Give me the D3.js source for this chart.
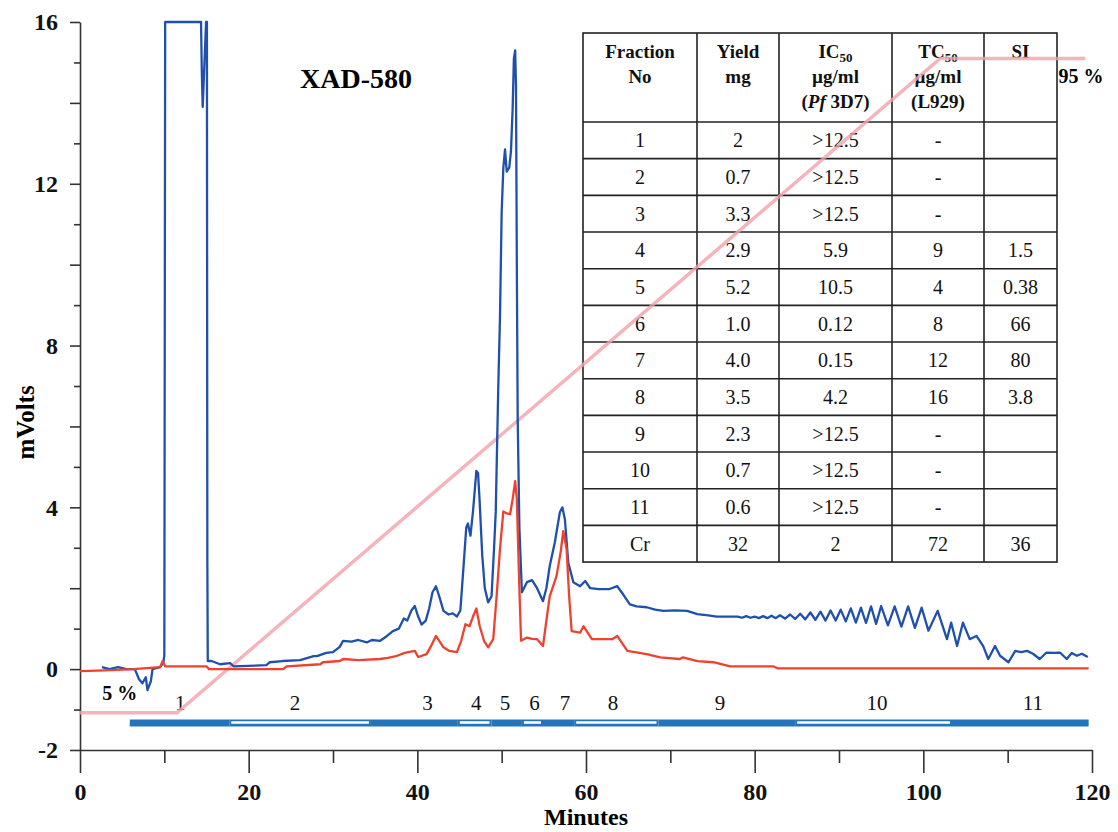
<!DOCTYPE html>
<html>
<head>
<meta charset="utf-8">
<script src="https://cdn.jsdelivr.net/npm/d3@7"></script>
<style>
  body { margin: 0; background: #fff; }
  svg text { font-family: "Liberation Serif", "Times New Roman", serif; }
</style>
</head>
<body>
<svg id="chart" width="1118" height="832"></svg>
<script>
// chromatogram traces, [minutes, mV]
const blueTrace = [
  [2.6, 0.05], [3.5, 0.0], [4.5, 0.05], [5.5, 0.0], [6.5, 0.0], [7.0, -0.25], [7.4, -0.35],
  [7.8, -0.2], [8.0, -0.52], [8.4, -0.3], [8.6, 0.0], [9.5, 0.05], [9.9, 0.17], [10.0, 0.35],
  [10.1, 16], [14.35, 16], [14.45, 14.7], [14.55, 13.9], [14.95, 16], [15.05, 16], [15.1, 2.7],
  [15.15, 0.2], [15.6, 0.2], [16.6, 0.12], [17.8, 0.15], [18.2, 0.07], [20, 0.08], [22.1, 0.1],
  [22.5, 0.17], [24, 0.2], [26.1, 0.22], [27.7, 0.32], [28.1, 0.32], [29.2, 0.4], [30, 0.42],
  [30.8, 0.55], [31.2, 0.7], [32.2, 0.68], [33, 0.72], [34, 0.66], [34.6, 0.72], [35.6, 0.7],
  [36.4, 0.82], [37.1, 0.94], [37.8, 1.0], [38.4, 1.25], [38.8, 1.2], [39.3, 1.45], [39.7, 1.56],
  [40.1, 1.3], [40.5, 1.1], [41.0, 1.2], [41.4, 1.5], [41.8, 1.9], [42.2, 2.05], [42.6, 1.8],
  [43.1, 1.44], [43.7, 1.35], [44.2, 1.38], [44.7, 1.3], [45.1, 1.45], [45.5, 2.6], [45.8, 3.5],
  [46.0, 3.6], [46.3, 3.3], [46.6, 3.9], [47.0, 4.9], [47.2, 4.85], [47.4, 4.1], [47.7, 2.8],
  [48.0, 2.0], [48.4, 1.65], [48.8, 1.8], [49.1, 3.0], [49.3, 3.9], [49.6, 7.0], [49.8, 8.7],
  [50.0, 11.3], [50.2, 12.4], [50.4, 12.85], [50.6, 12.3], [50.9, 12.4], [51.1, 12.8],
  [51.3, 13.85], [51.45, 15.1], [51.6, 15.3], [51.7, 14.4], [51.8, 9.9], [51.9, 6.2],
  [52.1, 3.5], [52.4, 1.9], [53.0, 2.15], [53.6, 2.2], [54.2, 2.0], [54.9, 1.68], [55.3, 2.0],
  [55.7, 2.55], [56.3, 3.13], [56.9, 3.88], [57.2, 4.0], [57.5, 3.7], [57.9, 2.63], [58.5, 2.15],
  [59.3, 2.05], [59.9, 2.18], [60.5, 2.0], [61.5, 1.98], [62.8, 1.98], [63.7, 2.05], [64.4, 1.85],
  [65.2, 1.6], [66.0, 1.55], [67.2, 1.53], [68.2, 1.47], [69.2, 1.44], [70.5, 1.45], [72.0, 1.44],
  [73.2, 1.36], [74.5, 1.33], [75.5, 1.3], [77.0, 1.3],
  [78.0, 1.30], [78.5, 1.27], [79.0, 1.31], [79.5, 1.27], [80.0, 1.30], [80.5, 1.26], [81.0, 1.31],
  [81.5, 1.26], [82.0, 1.32], [82.5, 1.26], [83.0, 1.33], [83.6, 1.25], [84.2, 1.35], [84.8, 1.24],
  [85.4, 1.37], [86.0, 1.23], [86.6, 1.40], [87.2, 1.22], [87.8, 1.42], [88.4, 1.20], [89.0, 1.45],
  [89.6, 1.20], [90.2, 1.47], [90.8, 1.18], [91.4, 1.50], [92.0, 1.15], [92.6, 1.52], [93.2, 1.14],
  [93.8, 1.55], [94.4, 1.12], [95.0, 1.56], [95.8, 1.08], [96.6, 1.55], [97.4, 1.05], [98.2, 1.55],
  [99.0, 1.02], [99.8, 1.52], [100.6, 0.95], [101.7, 1.44], [102.8, 0.74], [103.3, 1.15],
  [104.0, 0.57], [104.7, 1.15], [105.5, 0.74], [106.3, 0.82], [107.1, 0.57], [107.7, 0.25],
  [108.5, 0.57], [109.1, 0.33], [110.1, 0.17], [110.9, 0.45], [111.6, 0.42], [112.3, 0.45],
  [113.0, 0.38], [113.8, 0.25], [114.6, 0.41], [115.5, 0.4], [116.2, 0.41], [117.0, 0.25],
  [117.6, 0.4], [118.2, 0.33], [118.8, 0.38], [119.5, 0.3]
];

const redTrace = [
  [0, -0.05], [3, -0.03], [6.3, 0.0], [9.5, 0.05], [9.8, 0.2], [10.1, 0.07], [15, 0.07],
  [15.3, 0.0], [24.1, 0.0], [24.5, 0.07], [28.5, 0.12], [28.8, 0.17], [30.8, 0.2], [31.2, 0.25],
  [33, 0.22], [35.6, 0.25], [36.5, 0.28], [37.6, 0.33], [38.5, 0.4], [39.7, 0.45], [40.1, 0.3],
  [41.1, 0.37], [41.7, 0.6], [42.2, 0.82], [42.6, 0.7], [43.1, 0.54], [43.8, 0.45], [44.7, 0.42],
  [45.2, 0.7], [45.7, 1.11], [46.2, 1.06], [46.6, 1.3], [47.0, 1.5], [47.4, 1.06], [47.9, 0.7],
  [48.4, 0.54], [49.0, 0.74], [49.4, 1.8], [49.8, 2.97], [50.2, 3.9], [50.6, 3.85], [51.0, 3.83],
  [51.3, 4.2], [51.6, 4.65], [51.8, 4.2], [52.1, 1.98], [52.3, 0.7], [53.0, 0.78], [53.6, 0.75],
  [54.2, 0.74], [54.9, 0.57], [55.3, 1.2], [55.7, 1.8], [56.5, 2.3], [57.0, 2.9], [57.3, 3.41],
  [57.7, 2.97], [58.0, 1.8], [58.3, 0.94], [59.3, 0.9], [59.7, 1.06], [60.7, 0.74], [61.7, 0.74],
  [63.1, 0.74], [63.7, 0.82], [64.9, 0.45], [67.2, 0.37], [68.8, 0.29], [71.1, 0.25], [71.5, 0.29],
  [73.2, 0.2], [75.1, 0.17], [77.1, 0.07], [82.2, 0.07], [82.7, 0.02], [119.6, 0.02]
];

// solvent gradient (% organic)
const gradientTime = [0, 11.5, 102, 119.2];
const gradientPct = [5, 5, 95, 95];

// collected fractions
const fractionNames = ["1", "2", "3", "4", "5", "6", "7", "8", "9", "10", "11"];
const fractionStart = [5.9, 17.7, 34.5, 44.8, 48.8, 52.4, 54.9, 58.6, 68.6, 84.8, 103.4];
const fractionEnd = [17.7, 34.5, 44.8, 48.8, 52.4, 54.9, 58.6, 68.6, 84.8, 103.4, 119.6];
const fractionLabelAt = [11.9, 25.5, 41.2, 47, 50.4, 53.9, 57.5, 63.2, 75.9, 94.5, 113];

const xTickLabels = [0, 20, 40, 60, 80, 100, 120];
const yTickLabels = [-2, 0, 4, 8, 12, 16];

// table
const tableFraction = ["1", "2", "3", "4", "5", "6", "7", "8", "9", "10", "11", "Cr"];
const tableYield = ["2", "0.7", "3.3", "2.9", "5.2", "1.0", "4.0", "3.5", "2.3", "0.7", "0.6", "32"];
const tableIC50 = [">12.5", ">12.5", ">12.5", "5.9", "10.5", "0.12", "0.15", "4.2", ">12.5", ">12.5", ">12.5", "2"];
const tableTC50 = ["-", "-", "-", "9", "4", "8", "12", "16", "-", "-", "-", "72"];
const tableSI = ["", "", "", "1.5", "0.38", "66", "80", "3.8", "", "", "", "36"];

const blue = "#1f50ad";
const red = "#f0412f";
const barBlue = "#2474bb";

const svg = d3.select("#chart");

const x = d3.scaleLinear().domain([0, 120]).range([80, 1092]);
const y = d3.scaleLinear().domain([-2, 16]).range([750, 22]);
const pct = d3.scaleLinear().domain([5, 95]).range([y(-1.08), y(15.1)]);

// axes
const xAxis = d3.axisBottom(x)
  .tickValues(d3.range(0, 121, 10))
  .tickSizeOuter(0)
  .tickFormat(d => xTickLabels.includes(d) ? d : "");

const gx = svg.append("g")
  .attr("transform", `translate(0,${y(-2)})`)
  .call(xAxis);
gx.select(".domain").attr("stroke", "#333").attr("stroke-width", 1.6);
gx.selectAll(".tick line")
  .attr("stroke", "#333").attr("stroke-width", 1.6)
  .attr("y2", d => d % 20 === 0 ? 23 : 13);
gx.selectAll(".tick text")
  .attr("y", 33).attr("fill", "#111")
  .style("font-size", "24px").style("font-weight", "bold");

const yAxis = d3.axisLeft(y)
  .tickValues(d3.range(-2, 17, 1))
  .tickSizeOuter(0)
  .tickFormat(d => yTickLabels.includes(d) ? d : "");

const gy = svg.append("g")
  .attr("transform", `translate(${x(0)},0)`)
  .call(yAxis);
gy.select(".domain").attr("stroke", "#333").attr("stroke-width", 1.6);
gy.selectAll(".tick line")
  .attr("stroke", "#333").attr("stroke-width", 1.6)
  .attr("x2", d => d % 2 === 0 ? -10 : -6);
gy.selectAll(".tick text")
  .attr("x", -22).attr("fill", "#111")
  .style("font-size", "24px").style("font-weight", "bold");

svg.append("text")
  .attr("x", x(60)).attr("y", 825)
  .attr("text-anchor", "middle")
  .style("font-size", "24px").style("font-weight", "bold")
  .text("Minutes");

svg.append("text")
  .attr("transform", `translate(34,${y(6.1)}) rotate(-90)`)
  .attr("text-anchor", "middle")
  .style("font-size", "25px").style("font-weight", "bold")
  .text("mVolts");

svg.append("text")
  .attr("x", 356).attr("y", 88)
  .attr("text-anchor", "middle")
  .style("font-size", "28px").style("font-weight", "bold")
  .text("XAD-580");

// table
const colX = [583, 697, 779, 892, 984, 1057];
const tableTop = 33, headBottom = 122, rowH = 36.67;
const tableBottom = headBottom + rowH * tableFraction.length;
const table = svg.append("g");

table.append("rect")
  .attr("x", colX[0]).attr("y", tableTop)
  .attr("width", colX[5] - colX[0]).attr("height", tableBottom - tableTop)
  .attr("fill", "#fff").attr("stroke", "#222").attr("stroke-width", 1.6);

table.selectAll(".vline").data(colX.slice(1, 5)).enter().append("line")
  .attr("x1", d => d).attr("x2", d => d)
  .attr("y1", tableTop).attr("y2", tableBottom)
  .attr("stroke", "#222").attr("stroke-width", 1.6);

table.selectAll(".hline").data(d3.range(tableFraction.length)).enter().append("line")
  .attr("x1", colX[0]).attr("x2", colX[5])
  .attr("y1", i => headBottom + rowH * i).attr("y2", i => headBottom + rowH * i)
  .attr("stroke", "#222").attr("stroke-width", 1.6);

const colMid = i => (colX[i] + colX[i + 1]) / 2;
const head = table.append("g")
  .style("font-size", "19px").style("font-weight", "bold")
  .attr("text-anchor", "middle").attr("fill", "#111");

function headLine(col, row, parts) {
  const t = head.append("text").attr("x", colMid(col)).attr("y", 58 + row * 25);
  parts.forEach(p => {
    const s = t.append("tspan").text(p.t);
    if (p.sub) s.attr("dy", 4).style("font-size", "13px");
    if (p.it) s.style("font-style", "italic");
  });
}
headLine(0, 0, [{ t: "Fraction" }]);
headLine(0, 1, [{ t: "No" }]);
headLine(1, 0, [{ t: "Yield" }]);
headLine(1, 1, [{ t: "mg" }]);
headLine(2, 0, [{ t: "IC" }, { t: "50", sub: true }]);
headLine(2, 1, [{ t: "µg/ml" }]);
headLine(2, 2, [{ t: "(" }, { t: "Pf", it: true }, { t: " 3D7)" }]);
headLine(3, 0, [{ t: "TC" }, { t: "50", sub: true }]);
headLine(3, 1, [{ t: "µg/ml" }]);
headLine(3, 2, [{ t: "(L929)" }]);
headLine(4, 0, [{ t: "SI" }]);

const columns = [tableFraction, tableYield, tableIC50, tableTC50, tableSI];
columns.forEach((col, c) => {
  table.append("g").selectAll("text").data(col).enter().append("text")
    .attr("x", colMid(c))
    .attr("y", (d, i) => headBottom + rowH * (i + 0.5) + 7)
    .attr("text-anchor", "middle")
    .attr("fill", "#111")
    .style("font-size", "20px")
    .text(d => d);
});

// fraction bar
const barY = 723;
const bar = svg.append("g");
fractionNames.forEach((name, i) => {
  bar.append("line")
    .attr("x1", x(fractionStart[i])).attr("x2", x(fractionEnd[i]))
    .attr("y1", barY).attr("y2", barY)
    .attr("stroke", barBlue).attr("stroke-width", 7);
  if (i % 2 === 1) {
    bar.append("line")
      .attr("x1", x(fractionStart[i]) + 2).attr("x2", x(fractionEnd[i]) - 2)
      .attr("y1", barY - 0.5).attr("y2", barY - 0.5)
      .attr("stroke", "#fff").attr("stroke-width", 2.6);
  }
  bar.append("text")
    .attr("x", x(fractionLabelAt[i])).attr("y", 710)
    .attr("text-anchor", "middle").attr("fill", "#111")
    .style("font-size", "21px")
    .text(name);
});

// gradient line
const gradientLine = d3.line()
  .x((d, i) => x(gradientTime[i]))
  .y(d => pct(d));
svg.append("path")
  .datum(gradientPct)
  .attr("d", gradientLine)
  .attr("fill", "none")
  .attr("stroke", "#f3a0aa")
  .attr("stroke-width", 3.5)
  .attr("opacity", 0.8);

svg.append("text")
  .attr("x", x(4.7)).attr("y", 700)
  .attr("text-anchor", "middle")
  .style("font-size", "20px").style("font-weight", "bold")
  .text(gradientPct[0] + " %");
svg.append("text")
  .attr("x", x(118.7)).attr("y", 83)
  .attr("text-anchor", "middle")
  .style("font-size", "20px").style("font-weight", "bold")
  .text(gradientPct[3] + " %");

// traces
const traceLine = d3.line().x(d => x(d[0])).y(d => y(d[1]));
svg.append("path")
  .datum(blueTrace)
  .attr("d", traceLine)
  .attr("fill", "none").attr("stroke", blue)
  .attr("stroke-width", 2.3).attr("stroke-linejoin", "round");
svg.append("path")
  .datum(redTrace)
  .attr("d", traceLine)
  .attr("fill", "none").attr("stroke", red)
  .attr("stroke-width", 2.3).attr("stroke-linejoin", "round");
</script>
</body>
</html>
